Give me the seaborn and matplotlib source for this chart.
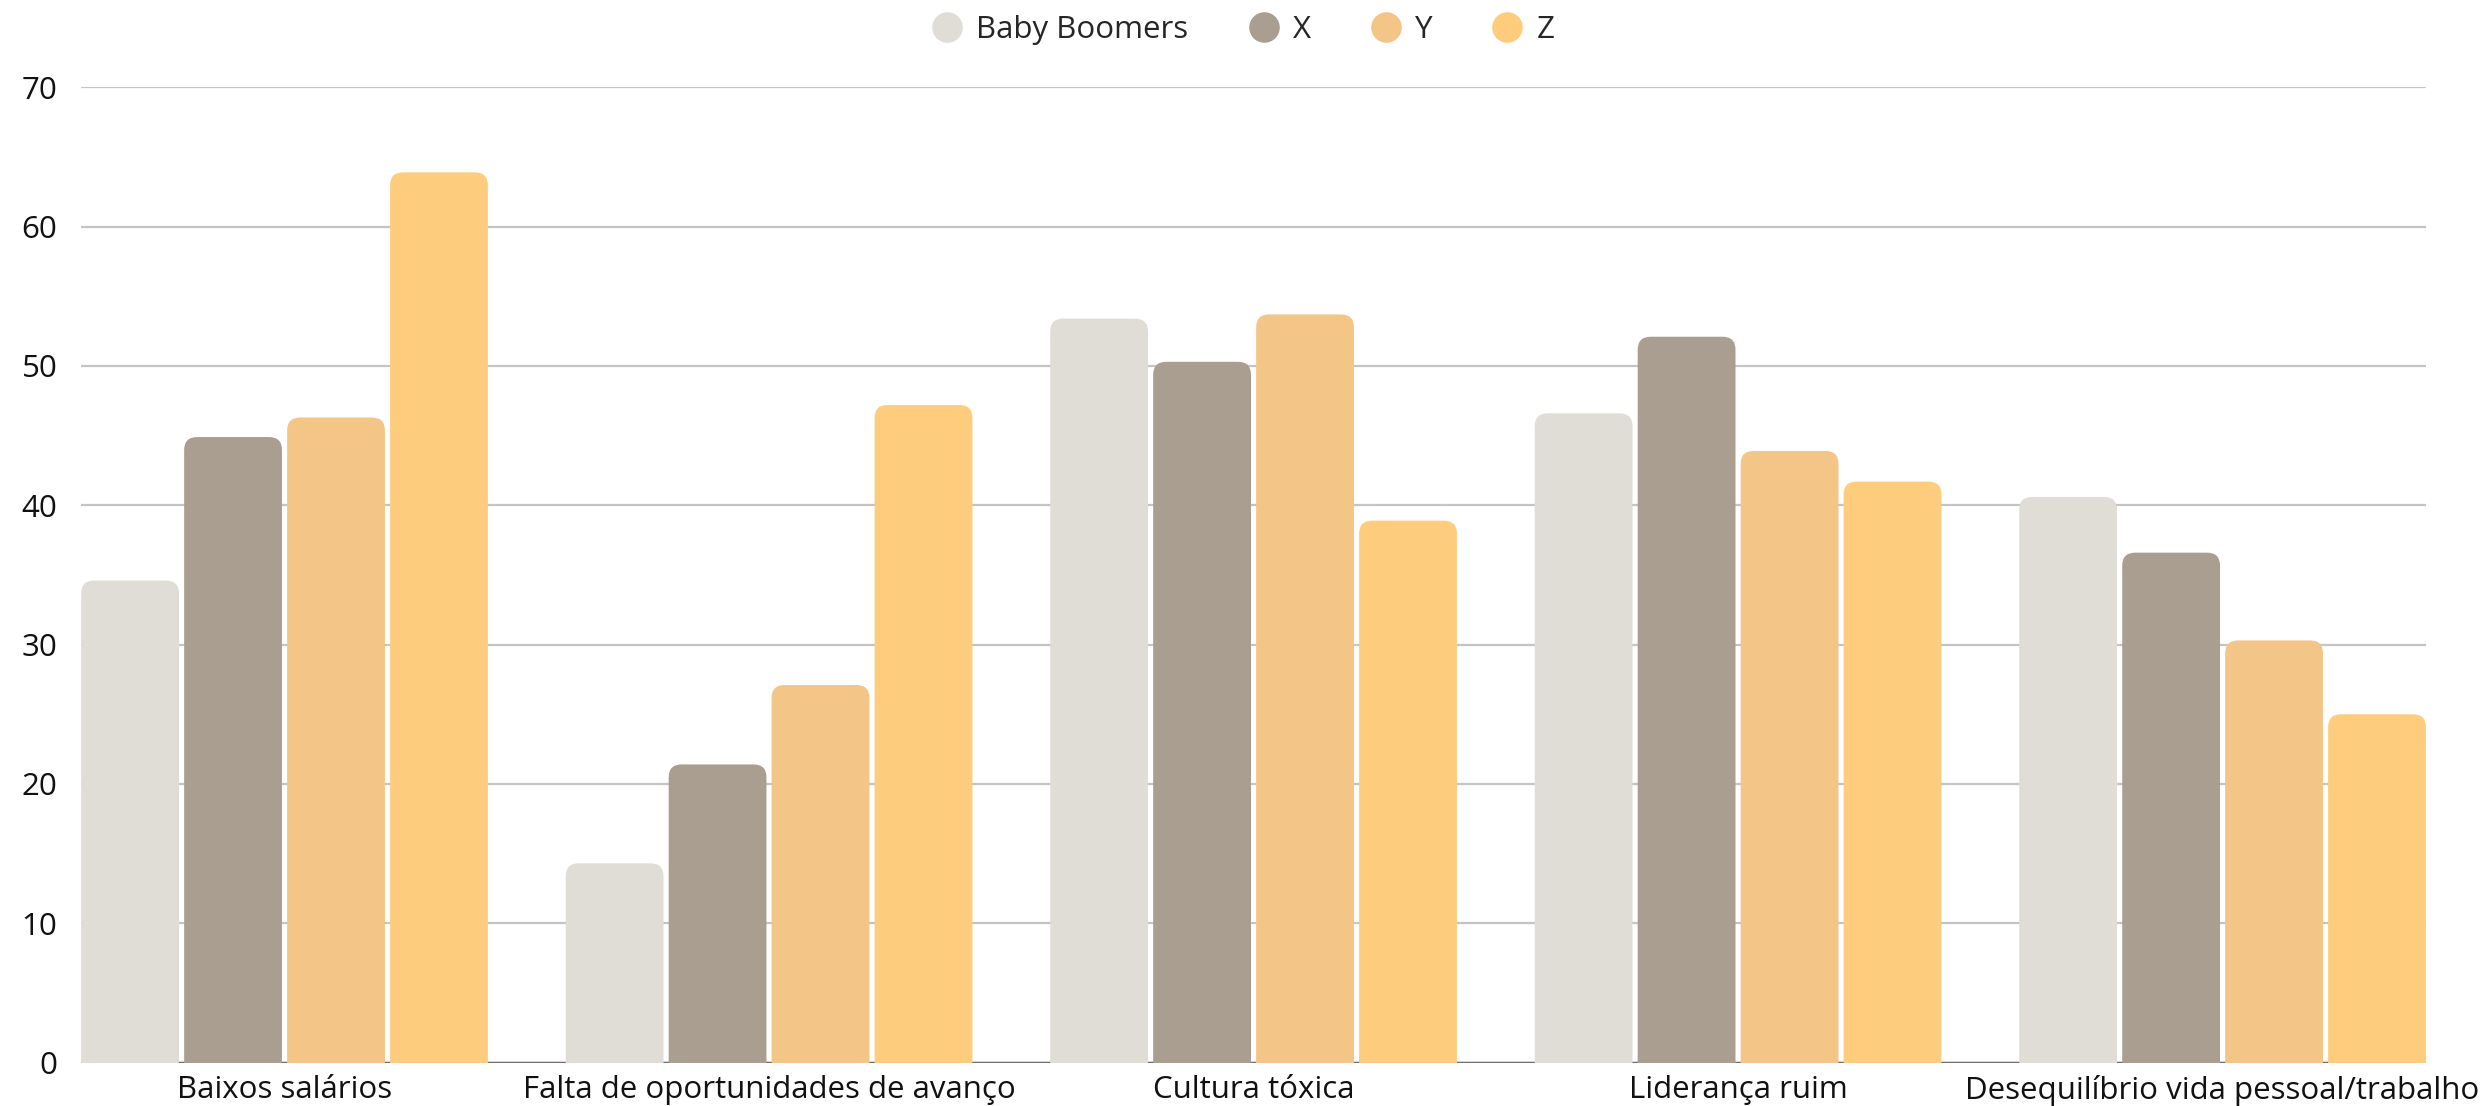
import matplotlib
matplotlib.use('Agg')
import matplotlib.pyplot as plt
import pandas as pd
import seaborn as sns
from matplotlib.lines import Line2D
from matplotlib.patches import FancyBboxPatch

categories = ['Baixos salários', 'Falta de oportunidades de avanço', 'Cultura tóxica',
              'Liderança ruim', 'Desequilíbrio vida pessoal/trabalho']
generations = ['Baby Boomers', 'X', 'Y', 'Z']
baby_boomers = [34.6, 14.3, 53.4, 46.6, 40.6]
gen_x = [44.9, 21.4, 50.3, 52.1, 36.6]
gen_y = [46.3, 27.1, 53.7, 43.9, 30.3]
gen_z = [63.9, 47.2, 38.9, 41.7, 25.0]
colors = ['#E0DDD6', '#A99E8F', '#F3C587', '#FECC7D']

series = [baby_boomers, gen_x, gen_y, gen_z]
df = pd.DataFrame({
    'motivo': categories * len(generations),
    'geracao': [g for g in generations for _ in categories],
    'valor': [v for s in series for v in s],
})

sns.set_theme(style='white')
plt.rcParams['font.family'] = ['Open Sans', 'DejaVu Sans']

W, H, DPI = 24.86, 11.06, 100
fig = plt.figure(figsize=(W, H), dpi=DPI)
ax = fig.add_axes([0.0326, 0.0393, 0.9433, 0.8817])

sns.barplot(data=df, x='motivo', y='valor', hue='geracao', hue_order=generations,
            palette=colors, width=0.85, gap=0.05, saturation=1, legend=False, ax=ax)

xlim = (-0.42, 4.42)
ylim = (0, 70)
ax.set_xlim(*xlim)
ax.set_ylim(*ylim)

# swap the square bars for ones with rounded tops
ax_w_px = W * DPI * 0.9433
ax_h_px = H * DPI * 0.8817
px_x = ax_w_px / (xlim[1] - xlim[0])
px_y = ax_h_px / (ylim[1] - ylim[0])
radius = 13 / px_x
for p in list(ax.patches):
    x, w, h = p.get_x(), p.get_width(), p.get_height()
    fc = p.get_facecolor()
    p.remove()
    box = FancyBboxPatch((x, -3), w, h + 3,
                         boxstyle=f'round,pad=0,rounding_size={radius}',
                         mutation_aspect=px_x / px_y,
                         facecolor=fc, edgecolor='none', zorder=3)
    ax.add_patch(box)

ax.set_yticks(range(0, 71, 10))
ax.yaxis.grid(True, color='#c4c4c4', linewidth=1.6)
ax.xaxis.grid(False)
ax.set_axisbelow(True)
ax.axhline(0, color='#6e6e6e', linewidth=2.5, zorder=2)
sns.despine(ax=ax, left=True, bottom=True)
ax.tick_params(axis='y', length=0, pad=17, labelsize=22.5, labelcolor='#111111')
ax.tick_params(axis='x', length=0, pad=9, labelsize=22.5, labelcolor='#111111')
ax.set_xlabel('')
ax.set_ylabel('')

handles = [Line2D([], [], marker='o', linestyle='', markersize=22,
                  markerfacecolor=c, markeredgecolor='none') for c in colors]
fig.legend(handles, generations, loc='center', bbox_to_anchor=(0.5, 0.973), ncol=4,
           frameon=False, fontsize=22.5, handlelength=1.0, handletextpad=0.43,
           columnspacing=1.9)

fig.savefig('out.png', dpi=DPI, facecolor='white')
